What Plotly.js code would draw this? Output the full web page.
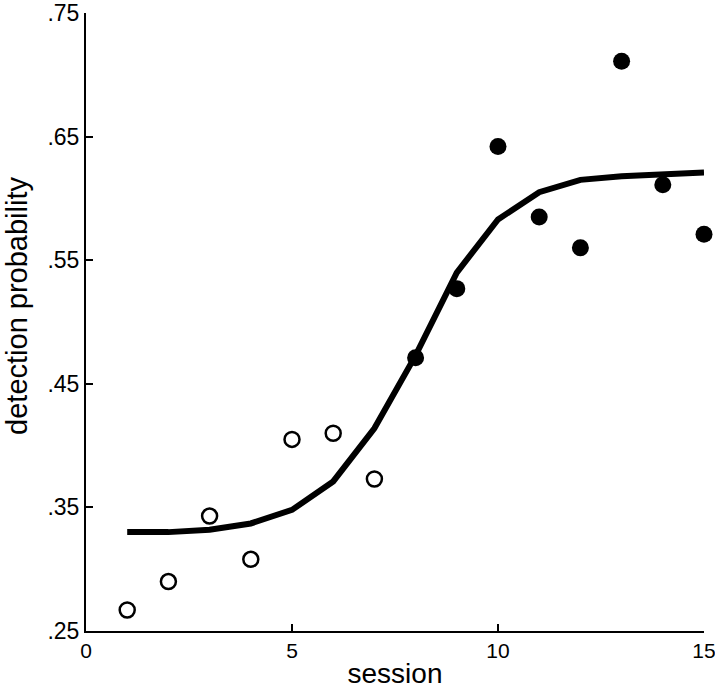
<!DOCTYPE html>
<html>
<head>
<meta charset="utf-8">
<script src="https://cdn.plot.ly/plotly-3.0.1.min.js"></script>
<style>
  body { margin: 0; background: #fff; }
  #chart { width: 715px; height: 694px; }
</style>
</head>
<body>
<div id="chart"></div>
<script>
// observed detection probability per session
var openSessions = [1, 2, 3, 4, 5, 6, 7];
var openProb = [0.267, 0.290, 0.343, 0.308, 0.405, 0.410, 0.373];
var filledSessions = [8, 9, 10, 11, 12, 13, 14, 15];
var filledProb = [0.471, 0.527, 0.642, 0.585, 0.560, 0.711, 0.611, 0.571];

// fitted curve
var fitSessions = [1, 2, 3, 4, 5, 6, 7, 8, 9, 10, 11, 12, 13, 14, 15];
var fitProb = [0.330, 0.330, 0.332, 0.337, 0.348, 0.371, 0.414, 0.473, 0.540, 0.583, 0.605, 0.615, 0.618, 0.620, 0.621];

var yTicks = [0.25, 0.35, 0.45, 0.55, 0.65, 0.75];
var yTickText = ['.25', '.35', '.45', '.55', '.65', '.75'];
var xTicks = [0, 5, 10, 15];

var fit = {
  x: fitSessions,
  y: fitProb,
  mode: 'lines',
  type: 'scatter',
  line: {color: '#000', width: 6},
  cliponaxis: false
};
var open = {
  x: openSessions,
  y: openProb,
  mode: 'markers',
  type: 'scatter',
  marker: {symbol: 'circle-open', size: 15, color: '#000', line: {width: 2.5, color: '#000'}},
  cliponaxis: false
};
var filled = {
  x: filledSessions,
  y: filledProb,
  mode: 'markers',
  type: 'scatter',
  marker: {symbol: 'circle', size: 17, color: '#000'},
  cliponaxis: false
};

var layout = {
  width: 715,
  height: 694,
  margin: {l: 86, r: 11, t: 13, b: 63},
  showlegend: false,
  paper_bgcolor: '#fff',
  plot_bgcolor: '#fff',
  font: {family: 'Liberation Sans, Arial, sans-serif', color: '#000'},
  xaxis: {
    range: [0, 15],
    tickvals: xTicks,
    ticks: 'inside',
    ticklen: 7,
    tickwidth: 2,
    tickcolor: '#000',
    showline: true,
    linecolor: '#000',
    linewidth: 2,
    showgrid: false,
    zeroline: false,
    ticklabeloverflow: 'allow',
    tickfont: {size: 21},
    title: {text: 'session', font: {size: 28}, standoff: 2}
  },
  yaxis: {
    range: [0.25, 0.75],
    tickvals: yTicks,
    ticktext: yTickText,
    ticks: 'inside',
    ticklen: 7,
    tickwidth: 2,
    tickcolor: '#000',
    showline: true,
    linecolor: '#000',
    linewidth: 2,
    showgrid: false,
    zeroline: false,
    ticklabeloverflow: 'allow',
    tickfont: {size: 23}
  },
  annotations: [{
    text: 'detection probability',
    textangle: -90,
    xref: 'paper', yref: 'paper',
    x: 0, y: 0.526,
    xanchor: 'center', yanchor: 'middle',
    xshift: -69,
    showarrow: false,
    font: {size: 29}
  }]
};

Plotly.newPlot('chart', [fit, open, filled], layout, {displayModeBar: false});
</script>
</body>
</html>
